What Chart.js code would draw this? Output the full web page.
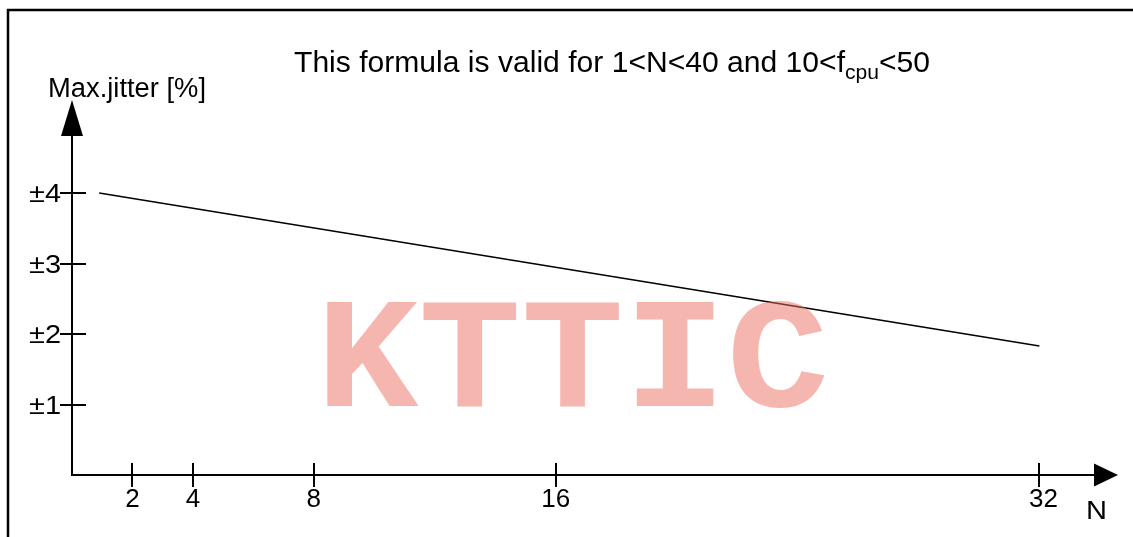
<!DOCTYPE html>
<html>
<head>
<meta charset="utf-8">
<script src="https://cdn.jsdelivr.net/npm/chart.js@4/dist/chart.umd.min.js"></script>
<style>
html,body{margin:0;padding:0;background:#fff;overflow:hidden;}
canvas{display:block;}
</style>
</head>
<body>
<canvas id="c" width="1133" height="537"></canvas>
<script>
// ---- data ----
const nValues = [0.9, 32];
const jitterValues = [4.0, 1.83];
const xTicks = [2, 4, 8, 16, 32];
const xTickLabels = ["2", "4", "8", "16", "32"];
const yTicks = [1, 2, 3, 4];
const yTickLabels = ["\u00b11", "\u00b12", "\u00b13", "\u00b14"];
const titleMain = "This formula is valid for 1<N<40 and 10<f";
const titleSub = "cpu";
const titleEnd = "<50";
const yAxisTitle = "Max.jitter [%]";
const xAxisTitle = "N";
const watermark = "KTTIC";

const FONT = '"Liberation Sans", Arial, sans-serif';

function stretchedText(ctx, text, x, y, size, sx, align) {
  ctx.save();
  ctx.font = size + 'px ' + FONT;
  const w = ctx.measureText(text).width * sx;
  let left = x;
  if (align === 'center') left = x - w / 2;
  else if (align === 'right') left = x - w;
  ctx.translate(left, y);
  ctx.scale(sx, 1);
  ctx.textAlign = 'left';
  ctx.textBaseline = 'alphabetic';
  ctx.fillText(text, 0, 0);
  ctx.restore();
  return w;
}

const decor = {
  id: 'decor',
  afterDraw(chart) {
    const ctx = chart.ctx;
    const xs = chart.scales.x, ys = chart.scales.y;
    const x0 = xs.getPixelForValue(0);
    const y0 = ys.getPixelForValue(0);
    ctx.save();
    ctx.fillStyle = '#000';
    ctx.strokeStyle = '#000';

    // frame (top + left)
    ctx.lineWidth = 2.5;
    ctx.beginPath();
    ctx.moveTo(8, 537);
    ctx.lineTo(8, 10);
    ctx.lineTo(1133, 10);
    ctx.stroke();

    // axes
    ctx.lineWidth = 2;
    ctx.beginPath();
    ctx.moveTo(x0, y0 + 1);
    ctx.lineTo(x0, 134);
    ctx.moveTo(x0 - 1, y0);
    ctx.lineTo(1095, y0);
    ctx.stroke();
    // arrows
    ctx.beginPath();
    ctx.moveTo(x0, 100);
    ctx.lineTo(x0 - 11, 136);
    ctx.lineTo(x0 + 11, 136);
    ctx.closePath();
    ctx.fill();
    ctx.beginPath();
    ctx.moveTo(1118, y0);
    ctx.lineTo(1094, y0 - 11.5);
    ctx.lineTo(1094, y0 + 11.5);
    ctx.closePath();
    ctx.fill();

    // tick marks
    ctx.lineWidth = 2;
    ctx.beginPath();
    yTicks.forEach(v => {
      const py = Math.round(ys.getPixelForValue(v));
      ctx.moveTo(x0 - 12, py);
      ctx.lineTo(x0 + 14, py);
    });
    xTicks.forEach(v => {
      const px = Math.round(xs.getPixelForValue(v));
      ctx.moveTo(px, y0 - 12);
      ctx.lineTo(px, y0 + 12);
    });
    ctx.stroke();

    // tick labels
    xTicks.forEach((v, i) => {
      const px = xs.getPixelForValue(v);
      stretchedText(ctx, xTickLabels[i], px + (v === 32 ? 4 : 0), 507, 26, 1.0, 'center');
    });
    ctx.font = '25px ' + FONT;
    const syTick = 32 / ctx.measureText('\u00b14').width;
    yTicks.forEach((v, i) => {
      const py = ys.getPixelForValue(v);
      stretchedText(ctx, yTickLabels[i], x0 - 11, py + 9, 25, syTick, 'right');
    });

    // axis titles
    ctx.font = '27px ' + FONT;
    const sxY = 158 / ctx.measureText(yAxisTitle).width;
    stretchedText(ctx, yAxisTitle, 48, 97, 27, sxY, 'left');
    ctx.font = '26px ' + FONT;
    const sxN = 21 / ctx.measureText(xAxisTitle).width;
    stretchedText(ctx, xAxisTitle, 1086, 519, 26, sxN, 'left');

    // title with subscript
    const ts = 30, subs = 21;
    ctx.font = ts + 'px ' + FONT;
    const w1 = ctx.measureText(titleMain).width;
    const w3 = ctx.measureText(titleEnd).width;
    ctx.font = subs + 'px ' + FONT;
    const w2 = ctx.measureText(titleSub).width;
    const sxT = 636 / (w1 + w2 + w3);
    let tx = 294;
    tx += stretchedText(ctx, titleMain, tx, 72, ts, sxT, 'left');
    tx += stretchedText(ctx, titleSub, tx, 79, subs, sxT, 'left');
    stretchedText(ctx, titleEnd, tx, 72, ts, sxT, 'left');

    // watermark
    ctx.font = 'bold 158px "Liberation Mono", "Courier New", monospace';
    const ww = ctx.measureText(watermark).width;
    const sxW = 513 / ww;
    ctx.fillStyle = 'rgba(235,110,95,0.5)';
    ctx.translate(316, 406);
    ctx.scale(sxW, 1);
    ctx.textAlign = 'left';
    ctx.textBaseline = 'alphabetic';
    ctx.fillText(watermark, 0, 0);
    ctx.restore();
  }
};

new Chart(document.getElementById('c'), {
  type: 'line',
  data: {
    datasets: [{
      data: nValues.map((n, i) => ({ x: n, y: jitterValues[i] })),
      borderColor: '#000',
      borderWidth: 1.6,
      pointRadius: 0,
      tension: 0,
      fill: false
    }]
  },
  options: {
    responsive: false,
    animation: false,
    devicePixelRatio: 1,
    layout: { padding: { left: 72, top: 100, right: 15, bottom: 62 } },
    plugins: { legend: { display: false }, tooltip: { enabled: false }, title: { display: false } },
    scales: {
      x: { type: 'linear', min: 0, max: 34.6, display: false },
      y: { type: 'linear', min: 0, max: 5.32, display: false }
    }
  },
  plugins: [decor]
});
</script>
</body>
</html>
